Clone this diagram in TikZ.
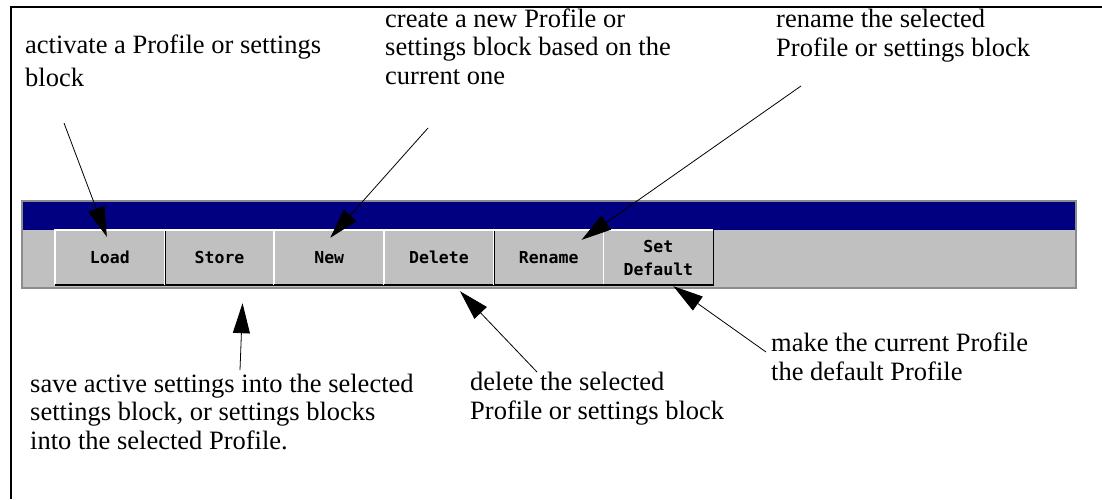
\documentclass[tikz,border=0pt]{standalone}
\usepackage{fontspec}
\setmainfont{Liberation Serif}
\newfontfamily\btnfont{DejaVu Sans Mono}
\usetikzlibrary{arrows.meta,calc}
\definecolor{barblue}{RGB}{0,0,128}
\definecolor{bargray}{RGB}{192,192,192}
\definecolor{edgegray}{RGB}{140,140,140}
\def\bevel(#1){\draw[white, line width=1.5pt] (#1.south west) -- (#1.north west) -- (#1.north east); \draw[black, line width=1.5pt] (#1.north east) -- (#1.south east) -- (#1.south west);}
\tikzset{
	note/.style={anchor=base west, align=left, inner sep=0pt, font=\fontsize{26.5}{28.5}\selectfont},
	btn/.style={fill=bargray, minimum width=109.7pt, minimum height=55pt, inner sep=0pt, align=center, font=\btnfont\bfseries\fontsize{16.5}{23}\selectfont},
	callout/.style={line width=0.8pt, -{Triangle[length=30pt, width=17pt]}}
}

\begin{document}
\begin{tikzpicture}[x=1pt, y=-1pt]
			%%%%% START %%%%%
			
			\useasboundingbox (0, 0) rectangle (1102, 499);
			\draw[line width=2pt] (11, 499) -- (11, 7) -- (1102, 7);
			
			\draw[edgegray, fill=bargray, line width=1.5pt] (22, 201) rectangle (1076, 288);
			\fill[barblue] (23, 202) rectangle (1075, 230);
			
			\node[btn] (load) at (109.85, 257.5) {Load};
			\node[btn] (store) at (219.55, 257.5) {Store};
			\node[btn] (new) at (329.25, 257.5) {New};
			\node[btn] (delete) at (438.95, 257.5) {Delete};
			\node[btn] (rename) at (548.65, 257.5) {Rename};
			\node[btn] (setdef) at (658.35, 257.5) {Set\\Default};
			\bevel(load) \bevel(store) \bevel(new) \bevel(delete) \bevel(rename) \bevel(setdef)
			
			% last line baselines
			\node[note, font=\fontsize{26.5}{33}\selectfont] (loadtxt) at (25, 86) {activate a Profile or settings\\block};
			\node[note] (newtxt) at (385, 84) {create a new Profile or\\settings block based on the\\current one};
			\node[note] (renametxt) at (776, 56) {rename the selected\\Profile or settings block};
			\node[note] (setdeftxt) at (771, 380) {make the current Profile\\the default Profile};
			\node[note] (deletetxt) at (470, 419) {delete the selected\\Profile or settings block};
			\node[note] (storetxt) at (30, 449) {save active settings into the selected\\settings block, or settings blocks\\into the selected Profile.};
			
			\coordinate (loadtail) at (64, 123);
			\coordinate (newtail) at (428, 128);
			\coordinate (renametail) at (801, 86);
			\coordinate (storetail) at (240, 370);
			\coordinate (deletetail) at (537, 372);
			\coordinate (setdeftail) at (766, 352);
			
			\draw[callout] (loadtail) -- ($(load.north)+(-3, 7)$);
			\draw[callout] (newtail) -- ($(new.north)+(1, 8)$);
			\draw[callout] (renametail) -- ($(rename.north)+(33, 10)$);
			\draw[callout] (storetail) -- ($(store.south)+(23, 18)$);
			\draw[callout] (deletetail) -- ($(delete.south)+(21, 6)$);
			\draw[callout] (setdeftail) -- ($(setdef.south)+(15, 1)$);
			
			%%%%% END %%%%%
\end{tikzpicture}
\end{document}
